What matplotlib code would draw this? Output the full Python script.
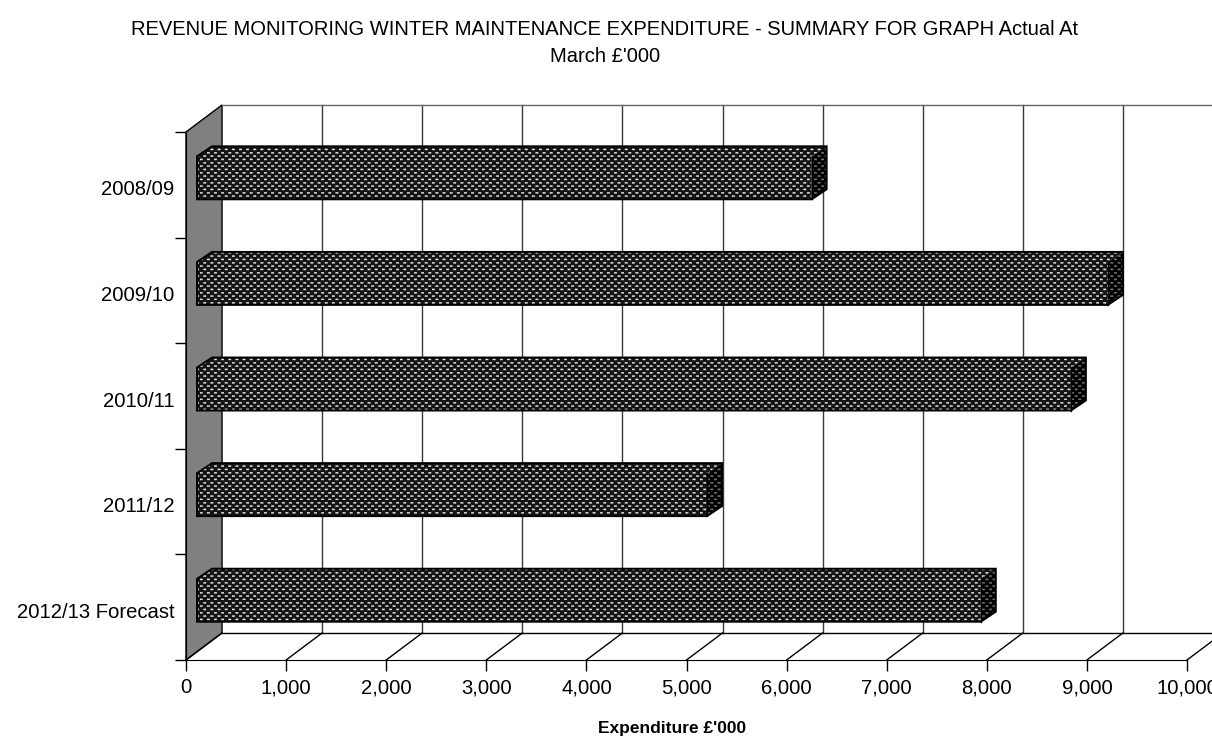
import matplotlib
matplotlib.use("Agg")
import matplotlib.hatch as mhatch
import matplotlib.pyplot as plt
import numpy as np
from matplotlib.patches import Polygon
from matplotlib.path import Path

plt.rcParams["font.family"] = ["Liberation Sans", "DejaVu Sans"]
plt.rcParams["hatch.linewidth"] = 0.3

title = "REVENUE MONITORING WINTER MAINTENANCE EXPENDITURE - SUMMARY FOR GRAPH Actual At\nMarch £'000"
categories = ["2008/09", "2009/10", "2010/11", "2011/12", "2012/13 Forecast"]
expenditure = [6140, 9100, 8730, 5095, 7830]
x_ticks = [0, 1000, 2000, 3000, 4000, 5000, 6000, 7000, 8000, 9000, 10000]

W, H = 1212, 736
# 3d look: how far the back wall is shifted from the front, in data units
DEPTH_X = 360
DEPTH_Y = 0.256
# bar sits in the middle of the depth
BAR_X0, BAR_DX = 110, 150
BAR_Y0, BAR_DY = 0.066, 0.095
BAR_H = 0.407


class DotHatch(mhatch.HatchPatternBase):
    """staggered small dots, wider apart than the rows (excel style pattern fill)"""
    filled = True

    def __init__(self, hatch, density):
        self.rows = 30 if "d" in hatch else 0
        self.cols = 14
        self.num_vertices = self.rows * self.cols * 5

    def set_vertices_and_codes(self, vertices, codes):
        w, h = 0.024, 0.011
        k = 0
        for r in range(self.rows):
            for c in range(self.cols):
                cx = (c + (0.5 if r % 2 else 0.0)) / self.cols
                cy = r / self.rows
                vertices[k:k + 5] = [(cx, cy), (cx + w, cy), (cx + w, cy + h), (cx, cy + h), (cx, cy)]
                codes[k:k + 5] = [Path.MOVETO, Path.LINETO, Path.LINETO, Path.LINETO, Path.CLOSEPOLY]
                k += 5


mhatch._hatch_types.append(DotHatch)

fig = plt.figure(figsize=(W / 100, H / 100), dpi=100)
ax = fig.add_axes([186 / W, 1 - 660 / H, 1001 / W, 528 / H])
ax.set_xlim(0, 10000)
ax.set_ylim(len(categories), 0)
n = len(categories)

# side wall
ax.add_patch(Polygon([(0, 0), (DEPTH_X, -DEPTH_Y), (DEPTH_X, n - DEPTH_Y), (0, n)],
                     facecolor="#808080", edgecolor="black", lw=1, clip_on=False, zorder=1))

# back wall gridlines and floor lines
for t in x_ticks:
    xb = t + DEPTH_X
    if t > 0:
        ax.plot([xb, xb], [-DEPTH_Y, n - DEPTH_Y], color="#3a3a3a", lw=1, clip_on=False, zorder=1)
    ax.plot([t, xb], [n, n - DEPTH_Y], color="black", lw=1, clip_on=False, zorder=1)
ax.plot([DEPTH_X, 10000 + DEPTH_X], [-DEPTH_Y, -DEPTH_Y], color="#666666", lw=1, clip_on=False, zorder=1)
ax.plot([DEPTH_X, 10000 + DEPTH_X], [n - DEPTH_Y, n - DEPTH_Y], color="black", lw=1, clip_on=False, zorder=1)

# bars
for i, val in enumerate(expenditure):
    top = i + 0.5 - BAR_H / 2 - BAR_Y0
    bottom = top + BAR_H
    x0, x1 = BAR_X0, val + BAR_X0
    dx, dy = BAR_DX, BAR_DY
    # top and front share one fill so the pattern has no seam between them
    front = [(x0, bottom), (x0, top), (x0 + dx, top - dy), (x1 + dx, top - dy), (x1, top), (x1, bottom)]
    side = [(x1, top), (x1 + dx, top - dy), (x1 + dx, bottom - dy), (x1, bottom)]
    faces = [(front, "#141414", "#e6e6e6"), (side, "#000000", "#787878")]
    for pts, fc, dots in faces:
        ax.add_patch(Polygon(pts, facecolor=fc, edgecolor=dots, hatch="d", lw=0, clip_on=False, zorder=3))
    # only the outer outline, the top runs into the front without a line
    outline = [(x0, bottom), (x0, top), (x0 + dx, top - dy), (x1 + dx, top - dy),
               (x1 + dx, bottom - dy), (x1, bottom)]
    ax.add_patch(Polygon(outline, fill=False, edgecolor="black", lw=1.4, clip_on=False, zorder=4))
    ax.plot([x1, x1], [top, bottom], color="black", lw=1, clip_on=False, zorder=4)

# axes
for s in ["top", "right"]:
    ax.spines[s].set_visible(False)
ax.patch.set_visible(False)
ax.set_xticks(x_ticks)
ax.set_xticklabels([f"{t:,}" for t in x_ticks], fontsize=14.6)
ax.set_yticks(range(n + 1))
ax.set_yticklabels([])
ax.set_yticks(np.arange(n) + 0.53, labels=categories, minor=True, fontsize=14.6)
ax.tick_params(axis="y", which="minor", length=0, pad=8.5)
ax.tick_params(axis="both", which="major", length=8, width=1)
ax.tick_params(axis="x", pad=5.3)
ax.set_xlabel("Expenditure £'000", fontsize=12.5, fontweight="bold", labelpad=17, x=(672 - 186) / 1001)

fig.suptitle(title, x=0.499, y=1 - 20 / H, fontsize=14.5, va="top", linespacing=1.55)

fig.savefig("out.png", dpi=100)
